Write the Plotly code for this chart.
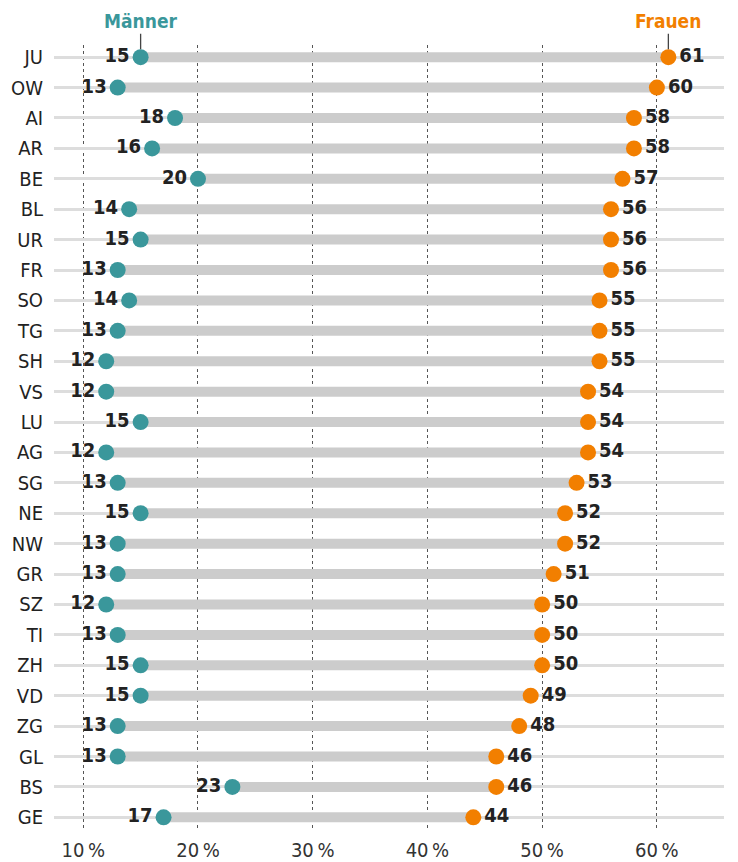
import plotly.graph_objects as go

cantons = ["JU", "OW", "AI", "AR", "BE", "BL", "UR", "FR", "SO", "TG", "SH", "VS", "LU",
           "AG", "SG", "NE", "NW", "GR", "SZ", "TI", "ZH", "VD", "ZG", "GL", "BS", "GE"]
maenner = [15, 13, 18, 16, 20, 14, 15, 13, 14, 13, 12, 12, 15, 12, 13, 15, 13, 13, 12, 13,
           15, 15, 13, 13, 23, 17]
frauen = [61, 60, 58, 58, 57, 56, 56, 56, 55, 55, 55, 54, 54, 54, 53, 52, 52, 51, 50, 50,
          50, 49, 48, 46, 46, 44]
tick_vals = [10, 20, 30, 40, 50, 60]
tick_text = ["10\u2009%", "20\u2009%", "30\u2009%", "40\u2009%", "50\u2009%", "60\u2009%"]

FONT = "Liberation Sans Narrow, DejaVu Sans Condensed, Arial Narrow, sans-serif"
TEAL = "#3a979b"
ORANGE = "#f27f00"

fig = go.Figure()

# thick connecting bars
bx, by = [], []
for c, m, f in zip(cantons, maenner, frauen):
    bx += [m, f, None]
    by += [c, c, None]
fig.add_trace(go.Scatter(x=bx, y=by, mode="lines",
                         line=dict(color="#cccccc", width=10),
                         hoverinfo="skip", showlegend=False))

fig.add_trace(go.Scatter(x=maenner, y=cantons, mode="markers+text",
                         marker=dict(color=TEAL, size=16),
                         text=[str(v) for v in maenner], textposition="middle left",
                         textfont=dict(family=FONT, size=20, color="#222222", weight="bold"),
                         name="Männer", showlegend=False))
fig.add_trace(go.Scatter(x=frauen, y=cantons, mode="markers+text",
                         marker=dict(color=ORANGE, size=16),
                         text=[str(v) for v in frauen], textposition="middle right",
                         textfont=dict(family=FONT, size=20, color="#222222", weight="bold"),
                         name="Frauen", showlegend=False))

fig.add_annotation(x=maenner[0], y=cantons[0], text="<b>Männer</b>", showarrow=True,
                   arrowhead=0, arrowwidth=1.3, arrowcolor="#444444", ax=0, ay=-36,
                   standoff=8, font=dict(family=FONT, size=19, color=TEAL))
fig.add_annotation(x=frauen[0], y=cantons[0], text="<b>Frauen</b>", showarrow=True,
                   arrowhead=0, arrowwidth=1.3, arrowcolor="#444444", ax=0, ay=-36,
                   standoff=8, font=dict(family=FONT, size=19, color=ORANGE))

fig.update_layout(
    width=730, height=854,
    margin=dict(l=46, r=14, t=37, b=31),
    plot_bgcolor="white", paper_bgcolor="white",
    font=dict(family=FONT, color="#222222"),
    xaxis=dict(range=[7.45, 65.85], tickvals=tick_vals, ticktext=tick_text,
               showgrid=True, gridcolor="#555555", griddash="dot", gridwidth=1,
               zeroline=False, showline=False, ticks="", automargin=False,
               tickfont=dict(family=FONT, size=20, color="#333333"),
               ticklabelstandoff=5),
    yaxis=dict(type="category", categoryorder="array", categoryarray=cantons,
               range=[25.45, -0.4], showgrid=True, gridcolor="#dddddd", gridwidth=2.5,
               zeroline=False, showline=False, ticks="", automargin=False,
               tickfont=dict(family=FONT, size=20, color="#222222"),
               ticklabelstandoff=10),
)

fig.write_html("out.html")
